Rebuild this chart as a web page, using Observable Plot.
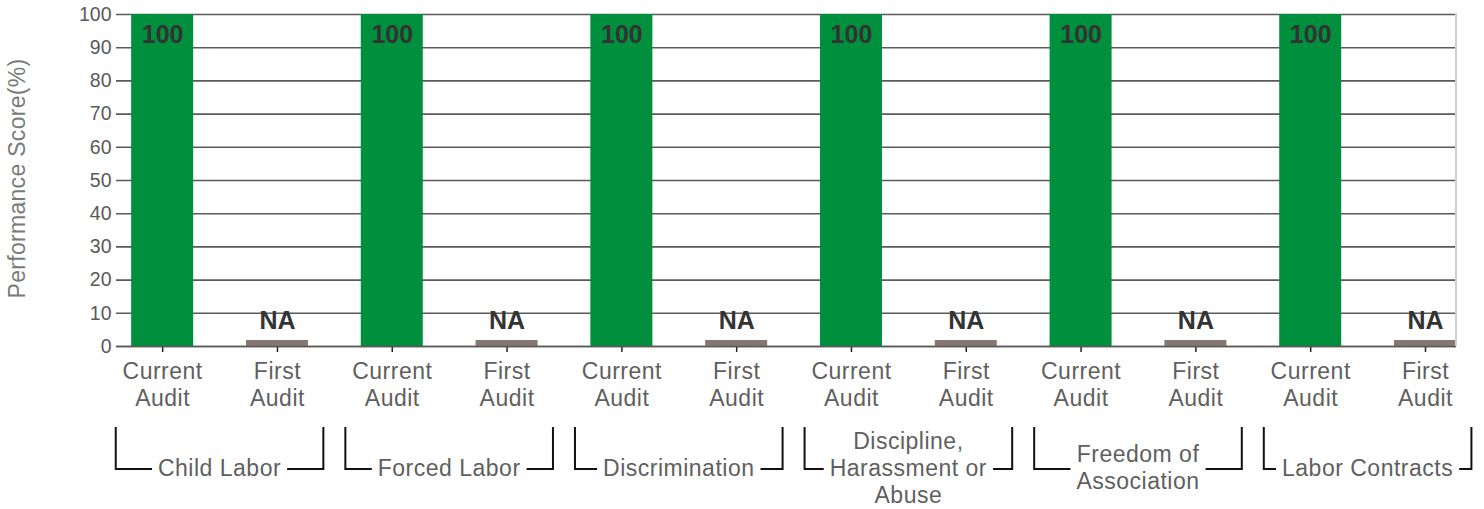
<!DOCTYPE html>
<html>
<head>
<meta charset="utf-8">
<script src="https://cdn.jsdelivr.net/npm/d3@7"></script>
<script src="https://cdn.jsdelivr.net/npm/@observablehq/plot@0.6"></script>
<style>
  html, body { margin: 0; padding: 0; background: #fff; }
  #chart { width: 1484px; height: 509px; }
  svg { font-family: "Liberation Sans", Arial, sans-serif; }
</style>
</head>
<body>
<div id="chart"></div>
<script>
// ---- data ----
const categories = ["Child Labor", "Forced Labor", "Discrimination", "Discipline, Harassment or Abuse", "Freedom of Association", "Labor Contracts"];
const categoryLines = [["Child Labor"], ["Forced Labor"], ["Discrimination"], ["Discipline,", "Harassment or", "Abuse"], ["Freedom of", "Association"], ["Labor Contracts"]];
const audits = ["Current Audit", "First Audit"];
const auditTickLabels = ["Current\nAudit", "First\nAudit"];
const currentScores = [100, 100, 100, 100, 100, 100];
const firstScores = [1.8, 1.8, 1.8, 1.8, 1.8, 1.8];   // stub bars shown as NA
const firstLabels = ["NA", "NA", "NA", "NA", "NA", "NA"];
const yTicks = [0, 10, 20, 30, 40, 50, 60, 70, 80, 90, 100];
const yTitle = "Performance Score(%)";

const colors = {"Current Audit": "#008f3c", "First Audit": "#847772"};

const rows = [];
categories.forEach((c, i) => {
  rows.push({key: c + "|" + audits[0], category: c, audit: audits[0], value: currentScores[i], label: String(currentScores[i])});
  rows.push({key: c + "|" + audits[1], category: c, audit: audits[1], value: firstScores[i], label: firstLabels[i]});
});
const keys = rows.map(d => d.key);

const W = 1484, H = 509;
const mL = 116, mR = 28, mT = 14, mB = 163;

const plot = Plot.plot({
  width: W,
  height: H,
  marginLeft: mL,
  marginRight: mR,
  marginTop: mT,
  marginBottom: mB,
  style: {fontFamily: "'Liberation Sans', Arial, sans-serif", background: "#fff", overflow: "visible"},
  x: {type: "band", domain: keys, paddingInner: 0.46, paddingOuter: 0.066, align: 1, round: false},
  y: {domain: [0, 100], ticks: yTicks},
  color: {domain: audits, range: audits.map(a => colors[a])},
  marks: [
    Plot.gridY(yTicks, {stroke: "#5a5a5a", strokeOpacity: 1, strokeWidth: 1.6}),
    Plot.barY(rows, {x: "key", y: "value", fill: "audit"}),
    Plot.axisY(yTicks, {tickSize: 0, tickPadding: 5, fontSize: 19.5, fill: "#595959", label: null}),
    Plot.axisX(keys, {
      tickSize: 6, tickPadding: 7, stroke: "#222", strokeWidth: 1.5,
      tickFormat: k => auditTickLabels[audits.indexOf(k.split("|")[1])],
      fontSize: 23, lineHeight: 1.17, fill: "#5f5f5f", label: null,
      letterSpacing: 0.5
    }),
    Plot.ruleY([0], {stroke: "#5a5a5a", strokeWidth: 1.6}),
    Plot.text(rows.filter(d => d.audit === audits[0]), {x: "key", y: "value", text: "label", dy: 20, fontSize: 25, fontWeight: "bold", fill: "#333"}),
    Plot.text(rows.filter(d => d.audit === audits[1]), {x: "key", y: "value", text: "label", dy: -20, fontSize: 25, fontWeight: "bold", fill: "#333"}),
    Plot.text([yTitle], {frameAnchor: "left", text: d => d, rotate: -90, dx: -99, dy: -2, textAnchor: "middle", fontSize: 23, fill: "#7a7a7a"})
  ]
});

document.getElementById("chart").appendChild(plot);
d3.select(plot).selectAll("text").filter(function() { return this.textContent === yTitle; }).attr("letter-spacing", 0.3);
d3.select(plot).selectAll("g[aria-label='x-axis tick label'] text, g[aria-label='x-axis tick label']").attr("letter-spacing", 0.5);

// ---- decorations drawn from the plot's own scales ----
const xs = plot.scale("x");
const ys = plot.scale("y");
const bw = xs.bandwidth;
const center = k => xs.apply(k) + bw / 2;
const step = center(keys[1]) - center(keys[0]);
const svg = d3.select(plot);
const yTop = ys.apply(100), yZero = ys.apply(0);

// right border of the plot area
const xRight = W - mR;
svg.append("line").attr("x1", xRight).attr("x2", xRight).attr("y1", yTop - 1).attr("y2", yZero)
  .attr("stroke", "#cfcfcf").attr("stroke-width", 2);

// grouped category brackets
const inset = 11, bTop = yZero + 81, bBot = yZero + 123, lh = 27, midY = yZero + 121.5;
const g = svg.append("g");
categories.forEach((c, i) => {
  const c0 = center(c + "|" + audits[0]);
  const c1 = center(c + "|" + audits[1]);
  const left = c0 - step / 2 + inset;
  const right = c1 + step / 2 - inset;
  const mid = (left + right) / 2;
  const lines = categoryLines[i];
  const t = g.append("text").attr("text-anchor", "middle").attr("font-size", 23).attr("letter-spacing", 0.5).attr("fill", "#5f5f5f");
  lines.forEach((ln, j) => {
    t.append("tspan").attr("x", mid).attr("y", midY + (j - (lines.length - 1) / 2) * lh).attr("dy", "0.35em").text(ln);
  });
  let maxW = 0;
  t.selectAll("tspan").each(function() { maxW = Math.max(maxW, this.getComputedTextLength()); });
  const gap = 6;
  g.append("path")
    .attr("d", `M${left},${bTop}V${bBot}H${mid - maxW / 2 - gap}M${mid + maxW / 2 + gap},${bBot}H${right}V${bTop}`)
    .attr("fill", "none").attr("stroke", "#111").attr("stroke-width", 2);
});
</script>
</body>
</html>
